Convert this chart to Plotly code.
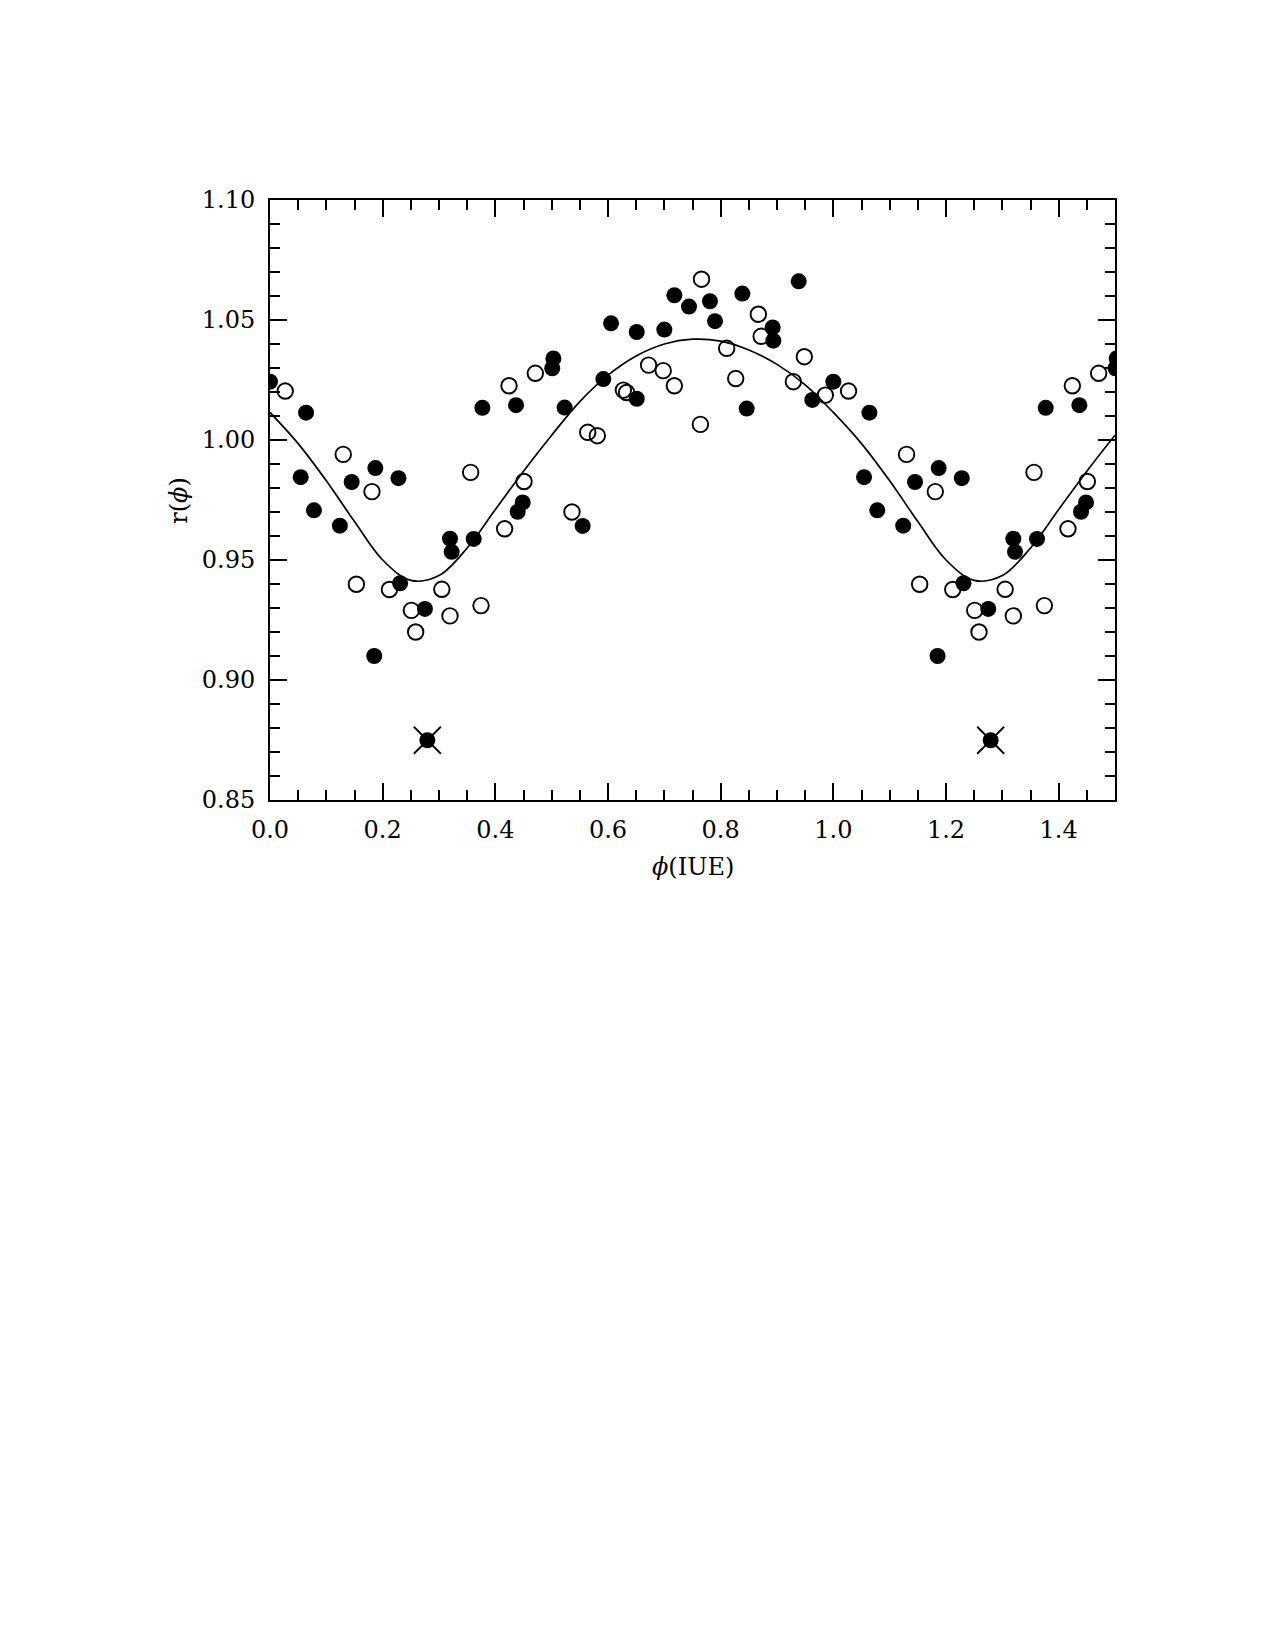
import plotly.graph_objects as go

# ---- data (phase-folded, phase in [0,1)) ----
filled_phase = [0.000, 0.0545, 0.064, 0.078, 0.124, 0.145, 0.185, 0.187, 0.228, 0.231,
                0.275, 0.3195, 0.3225, 0.3616, 0.377, 0.4367, 0.4397, 0.4486, 0.501, 0.503,
                0.523, 0.555, 0.5917, 0.6054, 0.651, 0.651, 0.700, 0.7178, 0.7438, 0.781,
                0.790, 0.8385, 0.8462, 0.8923, 0.8935, 0.9385, 0.9627]
filled_r = [1.0243, 0.9845, 1.0114, 0.9707, 0.9643, 0.9825, 0.9100, 0.9883, 0.9841, 0.9403,
            0.9296, 0.9589, 0.9534, 0.9588, 1.0134, 1.0145, 0.9701, 0.9740, 1.0299, 1.0340,
            1.0135, 0.9642, 1.0254, 1.0486, 1.0172, 1.0450, 1.0460, 1.0603, 1.0556, 1.0578,
            1.0495, 1.0610, 1.0131, 1.0469, 1.0414, 1.0661, 1.0167]

open_phase = [0.027, 0.130, 0.1533, 0.181, 0.212, 0.251, 0.2586, 0.305, 0.3195, 0.3562,
              0.3746, 0.4165, 0.4243, 0.4509, 0.471, 0.536, 0.564, 0.581, 0.6273, 0.633,
              0.672, 0.698, 0.7178, 0.764, 0.766, 0.8107, 0.8267, 0.8669, 0.8719, 0.929,
              0.9485, 0.9858]
open_r = [1.0204, 0.9940, 0.9399, 0.9785, 0.9377, 0.9290, 0.9200, 0.9378, 0.9267, 0.9865,
          0.9310, 0.9630, 1.0226, 0.9827, 1.0278, 0.9700, 1.0032, 1.0018, 1.0208, 1.0198,
          1.0312, 1.0289, 1.0226, 1.0065, 1.0670, 1.0382, 1.0256, 1.0524, 1.0432, 1.0243,
          1.0347, 1.0187]

# rejected point (filled circle with a cross)
flag_phase = [0.2793]
flag_r = [0.8749]

# fitted curve
curve_phase = [0.00, 0.05, 0.10, 0.15, 0.20, 0.25, 0.30, 0.35, 0.40, 0.45, 0.50,
               0.55, 0.60, 0.65, 0.70, 0.75, 0.80, 0.85, 0.90, 0.95, 1.00]
curve_r = [1.0115, 0.9985, 0.9830, 0.9660, 0.9500, 0.9415, 0.9435, 0.9550, 0.9710, 0.9870, 1.0020,
           1.0160, 1.0270, 1.0350, 1.0400, 1.0420, 1.0412, 1.0375, 1.0315, 1.0230, 1.0115]

x_ticks = [0.0, 0.2, 0.4, 0.6, 0.8, 1.0, 1.2, 1.4]
y_ticks = [0.85, 0.90, 0.95, 1.00, 1.05, 1.10]


def extend(ph, r, upto=0.51):
    """Plot phases 0..1.5: repeat the first half cycle one period later."""
    xs = list(ph) + [p + 1.0 for p in ph if p <= upto]
    ys = list(r) + [v for p, v in zip(ph, r) if p <= upto]
    return xs, ys


fx, fy = extend(filled_phase, filled_r)
ox, oy = extend(open_phase, open_r)
kx, ky = extend(flag_phase, flag_r)
cx = list(curve_phase) + [p + 1.0 for p in curve_phase[1:11]]
cy = list(curve_r) + list(curve_r[1:11])

FONT = "DejaVu Serif"

fig = go.Figure()
fig.add_trace(go.Scatter(x=cx, y=cy, mode="lines", line=dict(color="black", width=1.7, shape="spline", smoothing=1.0),
                         hoverinfo="skip", showlegend=False))
fig.add_trace(go.Scatter(x=ox, y=oy, mode="markers",
                         marker=dict(symbol="circle-open", size=15.5, color="black", line=dict(width=1.9, color="black")),
                         showlegend=False))
fig.add_trace(go.Scatter(x=fx, y=fy, mode="markers",
                         marker=dict(symbol="circle", size=16, color="black", line=dict(width=0)),
                         showlegend=False))
fig.add_trace(go.Scatter(x=kx, y=ky, mode="markers",
                         marker=dict(symbol="circle", size=16, color="black", line=dict(width=0)),
                         showlegend=False))
fig.add_trace(go.Scatter(x=kx, y=ky, mode="markers",
                         marker=dict(symbol="x-thin-open", size=27, color="black", line=dict(width=1.8, color="black")),
                         showlegend=False))

axis_common = dict(
    showline=True, linewidth=2, linecolor="black", mirror="ticks",
    ticks="inside", ticklen=17, tickwidth=1.8, tickcolor="black",
    showgrid=False, zeroline=False,
    tickfont=dict(family=FONT, size=24, color="black"),
)

fig.update_xaxes(range=[0, 1.5], tickvals=x_ticks, ticktext=[f"{v:.1f}" for v in x_ticks],
                 minor=dict(dtick=0.05, tick0=0, ticks="inside", ticklen=10, tickwidth=1.8, tickcolor="black"),
                 ticklabelstandoff=7, **axis_common)
fig.update_yaxes(range=[0.85, 1.10], tickvals=y_ticks, ticktext=[f"{v:.2f}" for v in y_ticks],
                 minor=dict(dtick=0.01, tick0=0.85, ticks="inside", ticklen=10, tickwidth=1.8, tickcolor="black"),
                 ticklabelstandoff=8, **axis_common)

fig.add_annotation(text="<i>ϕ</i>(IUE)", xref="paper", yref="paper", x=0.5, y=-0.112,
                   xanchor="center", yanchor="middle", showarrow=False,
                   font=dict(family=FONT, size=24, color="black"))
fig.add_annotation(text="r(<i>ϕ</i>)", xref="paper", yref="paper", x=-0.108, y=0.5,
                   xanchor="center", yanchor="middle", showarrow=False, textangle=-90,
                   font=dict(family=FONT, size=24, color="black"))

fig.update_layout(
    width=1275, height=1650,
    margin=dict(l=270, r=160, t=200, b=850, pad=0),
    paper_bgcolor="white", plot_bgcolor="white",
    showlegend=False,
)

fig.write_html("out.html")
